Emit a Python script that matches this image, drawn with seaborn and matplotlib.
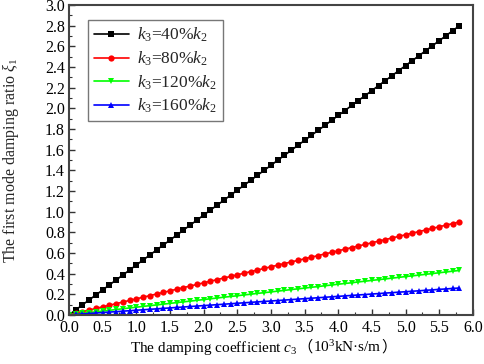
import numpy as np
import pandas as pd
import matplotlib
matplotlib.use("Agg")
import matplotlib.pyplot as plt
import seaborn as sns
from matplotlib.ticker import MultipleLocator, FormatStrFormatter
from matplotlib.offsetbox import TextArea, HPacker, AnchoredOffsetbox

x_c3 = [0.0, 0.1, 0.2, 0.3, 0.4, 0.5, 0.6, 0.7, 0.8, 0.9,
        1.0, 1.1, 1.2, 1.3, 1.4, 1.5, 1.6, 1.7, 1.8, 1.9,
        2.0, 2.1, 2.2, 2.3, 2.4, 2.5, 2.6, 2.7, 2.8, 2.9,
        3.0, 3.1, 3.2, 3.3, 3.4, 3.5, 3.6, 3.7, 3.8, 3.9,
        4.0, 4.1, 4.2, 4.3, 4.4, 4.5, 4.6, 4.7, 4.8, 4.9,
        5.0, 5.1, 5.2, 5.3, 5.4, 5.5, 5.6, 5.7, 5.8]

xi_40 = [0, 0.048, 0.097, 0.145, 0.193, 0.241, 0.290, 0.338, 0.386, 0.434,
         0.483, 0.531, 0.579, 0.628, 0.676, 0.724, 0.772, 0.821, 0.869, 0.917,
         0.966, 1.014, 1.062, 1.110, 1.159, 1.207, 1.255, 1.303, 1.352, 1.400,
         1.448, 1.497, 1.545, 1.593, 1.641, 1.690, 1.738, 1.786, 1.834, 1.883,
         1.931, 1.979, 2.028, 2.076, 2.124, 2.172, 2.221, 2.269, 2.317, 2.366,
         2.414, 2.462, 2.510, 2.559, 2.607, 2.655, 2.703, 2.752, 2.800]
xi_80 = [0, 0.016, 0.031, 0.047, 0.062, 0.078, 0.093, 0.109, 0.124, 0.140,
         0.155, 0.171, 0.186, 0.202, 0.217, 0.233, 0.248, 0.264, 0.279, 0.295,
         0.310, 0.326, 0.341, 0.357, 0.372, 0.388, 0.403, 0.419, 0.434, 0.450,
         0.466, 0.481, 0.497, 0.512, 0.528, 0.543, 0.559, 0.574, 0.590, 0.605,
         0.621, 0.636, 0.652, 0.667, 0.683, 0.698, 0.714, 0.729, 0.745, 0.760,
         0.776, 0.791, 0.807, 0.822, 0.838, 0.853, 0.869, 0.884, 0.900]
xi_120 = [0, 0.007, 0.015, 0.022, 0.030, 0.037, 0.044, 0.052, 0.059, 0.067,
          0.074, 0.082, 0.089, 0.096, 0.104, 0.111, 0.119, 0.126, 0.133, 0.141,
          0.148, 0.156, 0.163, 0.171, 0.178, 0.185, 0.193, 0.200, 0.208, 0.215,
          0.222, 0.230, 0.237, 0.245, 0.252, 0.259, 0.267, 0.274, 0.282, 0.289,
          0.297, 0.304, 0.311, 0.319, 0.326, 0.334, 0.341, 0.348, 0.356, 0.363,
          0.371, 0.378, 0.385, 0.393, 0.400, 0.408, 0.415, 0.423, 0.430]
xi_160 = [0, 0.004, 0.009, 0.013, 0.018, 0.022, 0.027, 0.031, 0.036, 0.040,
          0.045, 0.049, 0.054, 0.058, 0.063, 0.067, 0.072, 0.076, 0.081, 0.085,
          0.090, 0.094, 0.099, 0.103, 0.108, 0.112, 0.117, 0.121, 0.126, 0.130,
          0.134, 0.139, 0.143, 0.148, 0.152, 0.157, 0.161, 0.166, 0.170, 0.175,
          0.179, 0.184, 0.188, 0.193, 0.197, 0.202, 0.206, 0.211, 0.215, 0.220,
          0.224, 0.229, 0.233, 0.238, 0.242, 0.247, 0.251, 0.256, 0.260]

series_labels = [r"$k_3$=40%$k_2$", r"$k_3$=80%$k_2$", r"$k_3$=120%$k_2$", r"$k_3$=160%$k_2$"]
series_values = [xi_40, xi_80, xi_120, xi_160]
colors = ["#000000", "#ff0000", "#00ff00", "#0000ff"]
markers = ["s", "o", "v", "^"]

sns.set_theme(style="ticks")
plt.rcParams['font.family'] = ['Liberation Serif', 'Noto Sans CJK SC', 'DejaVu Sans']
plt.rcParams['mathtext.fontset'] = 'custom'
plt.rcParams['mathtext.rm'] = 'Liberation Serif'
plt.rcParams['mathtext.it'] = 'Liberation Serif:italic'
plt.rcParams['mathtext.bf'] = 'Liberation Serif:bold'

rows = []
for lab, vals in zip(series_labels, series_values):
    for xv, yv in zip(x_c3, vals):
        rows.append((xv, yv, lab))
df = pd.DataFrame(rows, columns=["c3", "xi", "case"])

fig = plt.figure(figsize=(4.84, 3.64), dpi=100)
ax = fig.add_axes([0.1426, 0.135, 0.8344, 0.851])

sns.lineplot(data=df, x="c3", y="xi", hue="case", style="case",
             palette=dict(zip(series_labels, colors)),
             markers=dict(zip(series_labels, markers)),
             dashes=False, markersize=4.5, markeredgewidth=0, linewidth=1.2,
             ax=ax)

ax.set_xlim(0, 6.0)
ax.set_ylim(0, 3.0)
ax.xaxis.set_major_locator(MultipleLocator(0.5))
ax.xaxis.set_minor_locator(MultipleLocator(0.25))
ax.yaxis.set_major_locator(MultipleLocator(0.2))
ax.yaxis.set_minor_locator(MultipleLocator(0.1))
ax.xaxis.set_major_formatter(FormatStrFormatter('%.1f'))
ax.yaxis.set_major_formatter(FormatStrFormatter('%.1f'))
ax.tick_params(which='major', direction='in', length=4, width=1, labelsize=11.5,
               top=False, right=False, colors='#333333', labelcolor='black', pad=3)
ax.tick_params(axis='x', which='major', pad=4)
ax.tick_params(which='minor', direction='in', length=2, width=0.8,
               top=False, right=False, colors='#333333')
for sp in ax.spines.values():
    sp.set_linewidth(1.5)
    sp.set_color('#444444')

# x label assembled from pieces so the full-width brackets render with a CJK font
ax.set_xlabel("")
lab_props = dict(fontsize=11, family='Liberation Serif', color='black')
cjk_props = dict(fontsize=11, family='Noto Sans CJK SC', color='black')
pieces = [TextArea("The damping coefficient $c_3$", textprops=lab_props),
          TextArea("\uff08", textprops=cjk_props),
          TextArea("10$^3$kN\u00b7s/m", textprops=lab_props),
          TextArea("\uff09", textprops=cjk_props)]
xlab_box = HPacker(children=pieces, align="baseline", pad=0, sep=0)
anch = AnchoredOffsetbox(loc='center', child=xlab_box, pad=0, borderpad=0,
                         frameon=False, bbox_to_anchor=(0.544, 0.045),
                         bbox_transform=fig.transFigure)
fig.add_artist(anch)

ax.set_ylabel(r"The first mode damping ratio $\xi_1$", fontsize=11.5)
ax.yaxis.set_label_coords(-0.118, 0.5)

leg = ax.legend(loc='upper left', bbox_to_anchor=(0.025, 0.98), fontsize=12.5,
                frameon=True, fancybox=False, edgecolor='#555555',
                handlelength=2.0, borderpad=0.35, labelspacing=0.3, handletextpad=0.5)
leg.get_frame().set_linewidth(1.0)
leg.set_title(None)

fig.savefig("out.png", dpi=100)
